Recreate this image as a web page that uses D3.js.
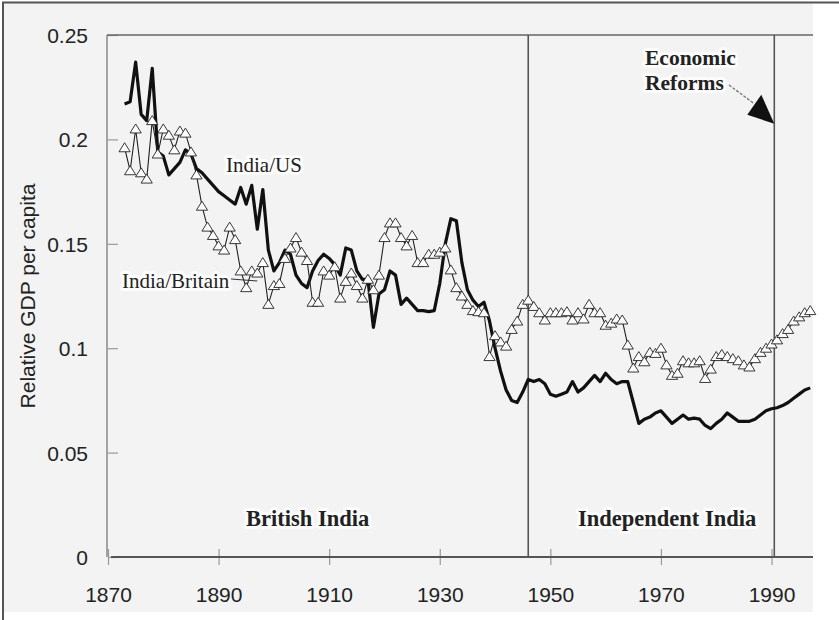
<!DOCTYPE html>
<html>
<head>
<meta charset="utf-8">
<style>
body { margin: 0; background: #fff; }
svg { display: block; }
.tick text { font-family: "Liberation Sans", Arial, sans-serif; font-size: 21px; fill: #222; }
.lbl { font-family: "Liberation Serif", "Times New Roman", serif; fill: #222; }
.halo { paint-order: stroke; stroke: #fcfcfc; stroke-width: 6px; stroke-linejoin: round; }
</style>
</head>
<body>
<script src="https://cdn.jsdelivr.net/npm/d3@7"></script>
<script>

// annual series, 1873 .. 1997
var firstYear = 1873;

var indiaUS = [
  0.217, 0.218, 0.237, 0.212, 0.209, 0.234, 0.194, 0.192, 0.183, 0.186,
  0.189, 0.195, 0.193, 0.186, 0.184, 0.181, 0.178, 0.175, 0.173, 0.171,
  0.169, 0.177, 0.169, 0.178, 0.157, 0.176, 0.147, 0.137, 0.141, 0.147,
  0.145, 0.135, 0.131, 0.129, 0.137, 0.142, 0.145, 0.143, 0.140, 0.135,
  0.148, 0.147, 0.137, 0.133, 0.133, 0.110, 0.126, 0.128, 0.137, 0.135,
  0.121, 0.124, 0.121, 0.118, 0.118, 0.1175, 0.118, 0.131, 0.150, 0.162,
  0.161, 0.141, 0.128, 0.123, 0.120, 0.122, 0.113, 0.100, 0.089, 0.080,
  0.075, 0.074, 0.079, 0.085, 0.084, 0.085, 0.083, 0.078, 0.077, 0.078,
  0.079, 0.084, 0.079, 0.081, 0.084, 0.087, 0.084, 0.088, 0.085, 0.083,
  0.084, 0.084, 0.074, 0.064, 0.066, 0.067, 0.069, 0.070, 0.067, 0.064,
  0.066, 0.068, 0.066, 0.0665, 0.066, 0.063, 0.0615, 0.064, 0.066, 0.069,
  0.067, 0.065, 0.065, 0.065, 0.066, 0.068, 0.070, 0.071, 0.0715, 0.0725,
  0.074, 0.076, 0.078, 0.080, 0.081
];

var indiaBritain = [
  0.196, 0.185, 0.205, 0.184, 0.181, 0.209, 0.193, 0.205, 0.202, 0.195,
  0.204, 0.203, 0.194, 0.183, 0.168, 0.158, 0.154, 0.149, 0.147, 0.158,
  0.152, 0.137, 0.129, 0.137, 0.136, 0.141, 0.121, 0.130, 0.131, 0.143,
  0.148, 0.153, 0.146, 0.142, 0.122, 0.122, 0.137, 0.135, 0.139, 0.124,
  0.132, 0.136, 0.130, 0.124, 0.133, 0.128, 0.135, 0.153, 0.160, 0.160,
  0.153, 0.149, 0.154, 0.141, 0.141, 0.145, 0.145, 0.146, 0.148, 0.1375,
  0.129, 0.125, 0.121, 0.118, 0.1175, 0.117, 0.096, 0.106, 0.103, 0.101,
  0.109, 0.113, 0.121, 0.123, 0.120, 0.117, 0.1135, 0.117, 0.117, 0.117,
  0.1175, 0.1135, 0.117, 0.114, 0.121, 0.117, 0.117, 0.111, 0.112, 0.114,
  0.1135, 0.1015, 0.0905, 0.096, 0.0935, 0.098, 0.0975, 0.100, 0.092, 0.087,
  0.088, 0.094, 0.093, 0.093, 0.094, 0.0855, 0.090, 0.096, 0.097, 0.096,
  0.095, 0.094, 0.092, 0.091, 0.095, 0.098, 0.100, 0.102, 0.104, 0.107,
  0.109, 0.113, 0.115, 0.117, 0.118
];

var xTicks = [1870, 1890, 1910, 1930, 1950, 1970, 1990];
var yTicks = [0, 0.05, 0.1, 0.15, 0.2, 0.25];
var independence = 1946;
var reforms = 1990.5;

var width = 839, height = 620;

var x = d3.scaleLinear().domain([1870, 1997.5]).range([108, 813]);
var y = d3.scaleLinear().domain([0, 0.25]).range([557, 35]);

var svg = d3.select("body").append("svg")
    .attr("width", width)
    .attr("height", height);

// page frame
svg.append("rect")
    .attr("x", 3).attr("y", 3)
    .attr("width", 810).attr("height", 609)
    .attr("fill", "#f3f3f3");
svg.append("path")
    .attr("d", "M3,620V2.5H839")
    .attr("fill", "none")
    .attr("stroke", "#555")
    .attr("stroke-width", 2);

// x axis
var xAxis = d3.axisBottom(x).tickValues(xTicks).tickFormat(d3.format("d")).tickSize(8).tickPadding(22);
var gx = svg.append("g").attr("transform", "translate(0," + y(0) + ")").call(xAxis);
gx.select(".domain").remove();
gx.selectAll(".tick line").attr("y1", -8).attr("stroke", "#999").attr("stroke-width", 1.2);

// y axis
var yAxis = d3.axisLeft(y).tickValues(yTicks).tickFormat(function(d) { return d === 0 ? "0" : String(+d.toFixed(2)); })
    .tickSize(11).tickPadding(9);
var gy = svg.append("g").attr("transform", "translate(" + x(1870) + ",0)").call(yAxis);
gy.select(".domain").remove();
gy.selectAll(".tick line").attr("x2", 10).attr("stroke", "#999").attr("stroke-width", 1.2);
gy.selectAll(".tick text").attr("dy", "0.36em");

// frame lines of the plot
svg.append("line")
    .attr("x1", x(1870) - 1).attr("x2", x(1870) - 1)
    .attr("y1", y(0.25)).attr("y2", y(0))
    .attr("stroke", "#888").attr("stroke-width", 1.5);
svg.append("line")
    .attr("x1", x(1870) - 1).attr("x2", x.range()[1])
    .attr("y1", y(0.25)).attr("y2", y(0.25))
    .attr("stroke", "#666").attr("stroke-width", 1.5);
svg.append("line")
    .attr("x1", x(1870) + 3).attr("x2", x.range()[1])
    .attr("y1", y(0)).attr("y2", y(0))
    .attr("stroke", "#555").attr("stroke-width", 2);

[independence, reforms].forEach(function(yr) {
  svg.append("line")
      .attr("x1", x(yr)).attr("x2", x(yr))
      .attr("y1", y(0.25)).attr("y2", y(0))
      .attr("stroke", "#555").attr("stroke-width", 1.6);
});

// y label
svg.append("text")
    .attr("transform", "translate(35," + y(0.125) + ") rotate(-90)")
    .attr("text-anchor", "middle")
    .style("font-family", "'Liberation Sans', Arial, sans-serif")
    .style("font-size", "21px")
    .attr("fill", "#222")
    .text("Relative GDP per capita");

// series
var line = d3.line()
    .x(function(d, i) { return x(firstYear + i); })
    .y(function(d) { return y(d); });

svg.append("path")
    .datum(indiaUS)
    .attr("d", line)
    .attr("fill", "none")
    .attr("stroke", "#111")
    .attr("stroke-width", 3.2)
    .attr("stroke-linejoin", "round");

svg.append("path")
    .datum(indiaBritain)
    .attr("d", line)
    .attr("fill", "none")
    .attr("stroke", "#222")
    .attr("stroke-width", 1.1);

svg.selectAll(".tri")
    .data(indiaBritain)
    .enter().append("path")
    .attr("class", "tri")
    .attr("transform", function(d, i) { return "translate(" + x(firstYear + i) + "," + y(d) + ")"; })
    .attr("d", "M0,-5L5.6,4L-5.6,4Z")
    .attr("fill", "#fcfcfc")
    .attr("stroke", "#222")
    .attr("stroke-width", 0.9);

// labels
svg.append("text").attr("class", "lbl halo")
    .attr("x", 226).attr("y", 172)
    .style("font-size", "21px")
    .text("India/US");

svg.append("line")
    .attr("x1", 231).attr("y1", 279).attr("x2", x(1897)).attr("y2", 281)
    .attr("stroke", "#333").attr("stroke-width", 1);
svg.append("text").attr("class", "lbl halo")
    .attr("x", 122).attr("y", 288)
    .style("font-size", "21px")
    .text("India/Britain");

svg.append("text").attr("class", "lbl halo")
    .attr("x", 246).attr("y", 526)
    .style("font-size", "22.5px").style("font-weight", "bold")
    .text("British India");

svg.append("text").attr("class", "lbl halo")
    .attr("x", 578).attr("y", 526)
    .style("font-size", "22.5px").style("font-weight", "bold")
    .text("Independent India");

svg.append("text").attr("class", "lbl halo")
    .attr("x", 645).attr("y", 65)
    .style("font-size", "21.5px").style("font-weight", "bold")
    .text("Economic");
svg.append("text").attr("class", "lbl halo")
    .attr("x", 645).attr("y", 90)
    .style("font-size", "21.5px").style("font-weight", "bold")
    .text("Reforms");

// arrow to the reforms line
var tipX = x(reforms), tipY = y(0.2075);
svg.append("line")
    .attr("x1", 729).attr("y1", 85).attr("x2", tipX - 20).attr("y2", tipY - 20)
    .attr("stroke", "#777").attr("stroke-width", 1.3).attr("stroke-dasharray", "3,1.5");
svg.append("path")
    .attr("d", "M" + tipX + "," + tipY + "L" + (tipX - 27) + "," + (tipY - 9) + "L" + (tipX - 13) + "," + (tipY - 29) + "Z")
    .attr("fill", "#111");

</script>
</body>
</html>
